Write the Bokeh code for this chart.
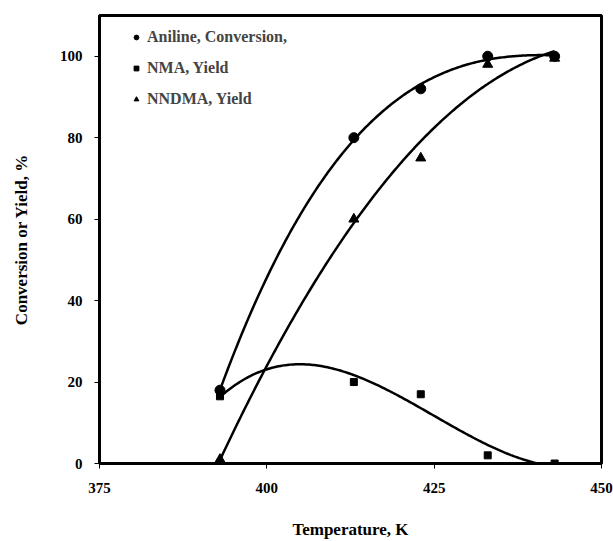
import numpy as np
from bokeh.plotting import figure
from bokeh.models import Range1d, FixedTicker, Legend, LegendItem
from bokeh.embed import file_html
from bokeh.resources import INLINE

temperature = [393, 413, 423, 433, 443]
aniline_conversion = [18, 80, 92, 100, 100]
nma_yield = [16.5, 20, 17, 2, 0]
nndma_yield = [1, 60, 75, 98, 99.5]
x_ticks = [375, 400, 425, 450]
y_ticks = [0, 20, 40, 60, 80, 100]

FONT = "Liberation Serif"

p = figure(width=613, height=541, output_backend="svg", toolbar_location=None,
           x_range=Range1d(375, 450), y_range=Range1d(0, 110),
           min_border_left=99, min_border_right=12, min_border_top=15, min_border_bottom=76)
p.background_fill_color = "white"
p.border_fill_color = "white"
p.grid.visible = False
p.outline_line_color = "black"
p.outline_line_width = 3

for ax in (p.xaxis[0], p.yaxis[0]):
    ax.axis_line_width = 3
    ax.axis_line_color = "black"
    ax.major_tick_in = 0
    ax.major_tick_out = 5
    ax.major_tick_line_width = 1
    ax.minor_tick_line_color = None
    ax.major_label_text_font = FONT
    ax.major_label_text_font_style = "bold"
    ax.major_label_text_font_size = "15px"
    ax.major_label_text_color = "black"
    ax.axis_label_text_font = FONT
    ax.axis_label_text_font_style = "bold"
    ax.axis_label_text_font_size = "17px"
    ax.axis_label_text_color = "black"

p.xaxis.ticker = FixedTicker(ticks=x_ticks)
p.yaxis.ticker = FixedTicker(ticks=y_ticks)
p.xaxis.major_label_standoff = 14
p.yaxis.major_label_standoff = 12
p.xaxis.axis_label = "Temperature, K"
p.yaxis.axis_label = "Conversion or Yield, %"
p.xaxis.axis_label_standoff = 24
p.yaxis.axis_label_standoff = 26

# Trendlines (polynomial fits of the data, like the spreadsheet trendlines)
xs = np.linspace(min(temperature), max(temperature), 200)
t = np.array(temperature, dtype=float)
for ys, deg in ((aniline_conversion, 3), (nma_yield, 3), (nndma_yield, 2)):
    c = np.polyfit(t - 418, np.array(ys, dtype=float), deg)
    p.line(xs, np.polyval(c, xs - 418), line_color="black", line_width=2.5)

r1 = p.scatter(temperature, aniline_conversion, marker="circle", size=10, color="black")
r2 = p.scatter(temperature, nma_yield, marker="square", size=7, color="black")
r3 = p.scatter(temperature, nndma_yield, marker="triangle", size=10, color="black")

legend = Legend(items=[LegendItem(label="Aniline, Conversion,", renderers=[r1]),
                       LegendItem(label="NMA, Yield", renderers=[r2]),
                       LegendItem(label="NNDMA, Yield", renderers=[r3])],
                location=(31, 354))
legend.border_line_color = None
legend.background_fill_alpha = 0
legend.label_text_font = FONT
legend.label_text_font_style = "bold"
legend.label_text_font_size = "16px"
legend.glyph_width = 12
legend.glyph_height = 20
legend.label_height = 20
legend.label_standoff = 5
legend.spacing = 11
legend.padding = 0
legend.margin = 0
p.add_layout(legend, "center")

open("out.html", "w").write(file_html(p, INLINE))
